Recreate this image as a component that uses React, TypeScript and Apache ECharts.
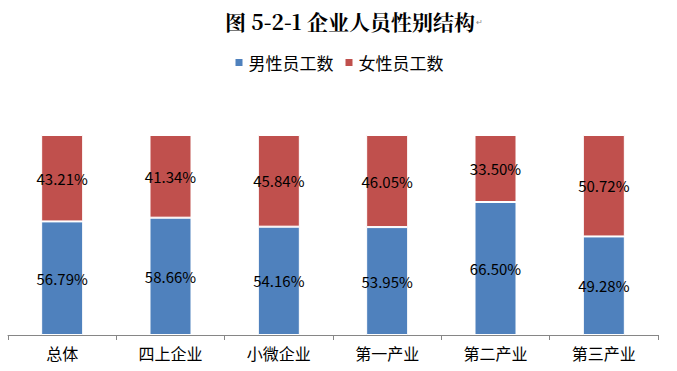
import React, { useEffect, useRef } from "react";
import * as echarts from "echarts";

const categories = ["总体", "四上企业", "小微企业", "第一产业", "第二产业", "第三产业"];
const maleShare = [56.79, 58.66, 54.16, 53.95, 66.5, 49.28];
const femaleShare = [43.21, 41.34, 45.84, 46.05, 33.5, 50.72];
const seriesNames = ["男性员工数", "女性员工数"];

export default function App() {
  const ref = useRef<HTMLDivElement>(null);
  useEffect(() => {
    const chart = echarts.init(ref.current!, null, { renderer: "svg" });
    const font = "'Microsoft YaHei', 'Noto Sans CJK SC', sans-serif";
    const label = {
      show: true,
      position: "inside",
      color: "#000",
      fontSize: 15,
      fontFamily: font,
      formatter: (p: any) => p.value.toFixed(2) + "%",
    };
    chart.setOption({
      animation: false,
      backgroundColor: "#fff",
      title: {
        text: "图 5-2-1 企业人员性别结构",
        left: 345,
        top: 5,
        textAlign: "center",
        textStyle: { fontSize: 21, fontWeight: "bold", color: "#000", fontFamily: "'Noto Serif CJK SC', 'Noto Sans CJK SC', serif" },
      },
      graphic: [
        { type: "text", left: 476, top: 18, style: { text: "↵", fontSize: 8, fill: "#888" } },
      ],
      legend: {
        data: seriesNames,
        top: 49,
        left: "center",
        itemWidth: 9,
        itemHeight: 9,
        itemGap: 10,
        icon: "rect",
        textStyle: { fontSize: 17, color: "#000", fontFamily: font },
      },
      grid: { left: 8, right: 19, top: 135, bottom: 36, containLabel: false },
      xAxis: {
        type: "category",
        data: categories,
        axisLine: { lineStyle: { color: "#868686" } },
        axisTick: { show: true, length: 5, lineStyle: { color: "#868686" } },
        axisLabel: { fontSize: 16, color: "#000", margin: 10, fontFamily: font },
      },
      yAxis: {
        type: "value",
        min: 0,
        max: 100,
        show: false,
        splitLine: { show: false },
      },
      series: [
        {
          name: seriesNames[0],
          type: "bar",
          stack: "total",
          data: maleShare,
          barWidth: 42,
          itemStyle: { color: "#4F81BD", borderColor: "#fff", borderWidth: 1 },
          label,
        },
        {
          name: seriesNames[1],
          type: "bar",
          stack: "total",
          data: femaleShare,
          barWidth: 42,
          itemStyle: { color: "#C0504D", borderColor: "#fff", borderWidth: 1 },
          label,
        },
      ],
    });
    return () => chart.dispose();
  }, []);
  return <div ref={ref} style={{ width: 677, height: 371, position: "absolute", left: 0, top: 0 }} />;
}
